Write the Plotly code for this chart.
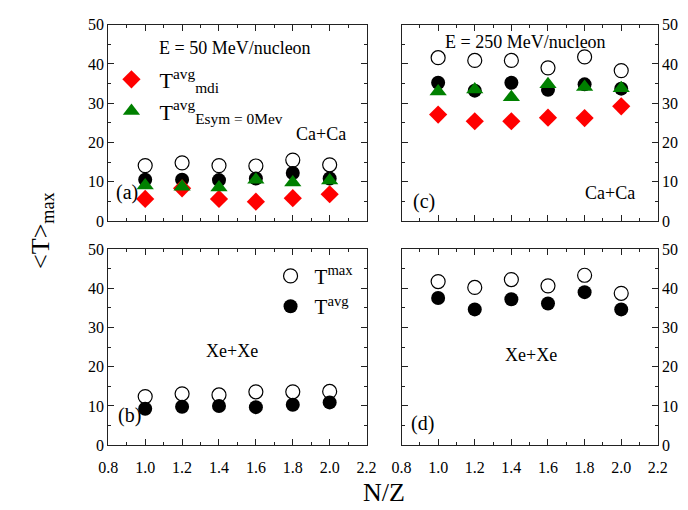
import plotly.graph_objects as go

W, H = 688, 510

nz = [1.0, 1.2, 1.4, 1.6, 1.8, 2.0]
x_ticks = [0.8, 1.0, 1.2, 1.4, 1.6, 1.8, 2.0, 2.2]
y_ticks = [0, 10, 20, 30, 40, 50]

# (a) Ca+Ca, E = 50 MeV/nucleon
a_tmax = [14.1, 14.8, 14.1, 14.0, 15.5, 14.3]
a_tavg = [10.5, 10.5, 10.4, 10.8, 12.2, 10.8]
a_mdi = [5.6, 8.3, 5.6, 4.9, 5.8, 6.8]
a_esym0 = [9.0, 8.7, 8.5, 10.5, 9.8, 10.3]
# (c) Ca+Ca, E = 250 MeV/nucleon
c_tmax = [41.6, 40.9, 40.9, 39.0, 41.8, 38.3]
c_tavg = [35.2, 33.2, 35.2, 33.4, 34.8, 33.7]
c_mdi = [27.1, 25.4, 25.4, 26.3, 26.2, 29.2]
c_esym0 = [33.0, 33.5, 31.5, 34.8, 34.1, 33.8]
# (b) Xe+Xe, 50 MeV/nucleon
b_tmax = [12.4, 13.1, 12.8, 13.6, 13.6, 13.7]
b_tavg = [9.3, 9.8, 10.0, 9.7, 10.3, 10.9]
# (d) Xe+Xe, 250 MeV/nucleon
d_tmax = [41.7, 40.2, 42.2, 40.6, 43.3, 38.7]
d_tavg = [37.5, 34.6, 37.2, 36.1, 39.0, 34.6]

FONT = "Liberation Serif"
AX = "#222"


def px(x):
    return x / W


def py(y):
    return 1 - y / H


fig = go.Figure()


def add_panel(xa, ya, tmax, tavg, mdi=None, esym=None, leg_circles=False, leg_marks=False):
    fig.add_trace(go.Scatter(x=nz, y=tmax, mode="markers", xaxis=xa, yaxis=ya,
                             name="T<sup>max</sup>", legend="legend2", showlegend=leg_circles,
                             marker=dict(symbol="circle-open", size=14, color="black", line=dict(width=1.2))))
    fig.add_trace(go.Scatter(x=nz, y=tavg, mode="markers", xaxis=xa, yaxis=ya,
                             name="T<sup>avg</sup>", legend="legend2", showlegend=leg_circles,
                             marker=dict(symbol="circle", size=14, color="black")))
    if mdi is not None:
        fig.add_trace(go.Scatter(x=nz, y=mdi, mode="markers", xaxis=xa, yaxis=ya,
                                 name="T<sup>avg</sup><sub>mdi</sub>", legend="legend", showlegend=leg_marks,
                                 marker=dict(symbol="diamond", size=14, color="#ff0000")))
        fig.add_trace(go.Scatter(x=nz, y=esym, mode="markers", xaxis=xa, yaxis=ya,
                                 name="T<sup>avg</sup><sub>Esym = 0Mev</sub>", legend="legend", showlegend=leg_marks,
                                 marker=dict(symbol="triangle-up", size=15, color="#008000")))


add_panel("x", "y", a_tmax, a_tavg, a_mdi, a_esym0, leg_marks=True)
add_panel("x2", "y2", c_tmax, c_tavg, c_mdi, c_esym0)
add_panel("x3", "y3", b_tmax, b_tavg, leg_circles=True)
add_panel("x4", "y4", d_tmax, d_tavg)

L = [93, 359]
R = [395, 659]
T = [9, 212]
B = [241, 444]


def xax(dom, anchor, labels):
    return dict(domain=[px(dom[0]), px(dom[1])], anchor=anchor, range=[0.8, 2.2],
                tickmode="array", tickvals=x_ticks, ticktext=["%.1f" % v for v in x_ticks],
                ticks="inside", ticklen=6, tickwidth=1, tickcolor=AX,
                showline=True, linecolor=AX, linewidth=1, mirror="allticks",
                showgrid=False, zeroline=False, showticklabels=labels, ticklabelstandoff=8,
                minor=dict(dtick=0.1, tick0=0.8, ticks="inside", ticklen=3, tickcolor=AX, showgrid=False),
                tickfont=dict(family=FONT, size=16, color="black"))


def yax(dom, anchor, side):
    return dict(domain=[py(dom[1]), py(dom[0])], anchor=anchor, range=[0, 50], side=side,
                tickmode="array", tickvals=y_ticks,
                ticks="inside", ticklen=6, tickwidth=1, tickcolor=AX,
                showline=True, linecolor=AX, linewidth=1, mirror="allticks",
                showgrid=False, zeroline=False,
                minor=dict(dtick=5, tick0=0, ticks="inside", ticklen=3, tickcolor=AX, showgrid=False),
                tickfont=dict(family=FONT, size=16, color="black"))


fig.update_layout(
    width=W, height=H,
    margin=dict(l=0, r=0, t=0, b=0),
    paper_bgcolor="white", plot_bgcolor="white",
    font=dict(family=FONT, color="black"),
    xaxis=xax(L, "y", False), yaxis=yax(T, "x", "left"),
    xaxis2=xax(R, "y2", False), yaxis2=yax(T, "x2", "right"),
    xaxis3=xax(L, "y3", True), yaxis3=yax(B, "x3", "left"),
    xaxis4=xax(R, "y4", True), yaxis4=yax(B, "x4", "right"),
    legend=dict(x=px(88), y=py(44), xanchor="left", yanchor="top",
                bgcolor="rgba(0,0,0,0)", font=dict(family=FONT, size=22, color="black"),
                itemsizing="trace", tracegroupgap=0, itemwidth=46),
    legend2=dict(x=px(256), y=py(248), xanchor="left", yanchor="top",
                 bgcolor="rgba(0,0,0,0)", font=dict(family=FONT, size=21, color="black"),
                 itemsizing="trace", tracegroupgap=0, itemwidth=38),
)


def ann(text, x, y, size=18, **kw):
    fig.add_annotation(text=text, x=px(x), y=py(y), xref="paper", yref="paper",
                       showarrow=False, font=dict(family=FONT, size=size, color="black"),
                       xanchor="center", yanchor="middle", **kw)


ann("E = 50 MeV/nucleon", 223, 33)
ann("Ca+Ca", 312, 122)
ann("(a)", 112, 183, size=20)
ann("E = 250 MeV/nucleon", 523, 27)
ann("(c)", 418, 192, size=20)
ann("Ca+Ca", 610, 183)
ann("Xe+Xe", 220, 347)
ann("(b)", 115, 413, size=20)
ann("Xe+Xe", 528, 351)
ann("(d)", 417, 422, size=20)
ann("N/Z", 377, 493, size=26)
ann("&lt;T&gt;<sub>max</sub>", 24, 222, size=26, textangle=-90)

fig.write_html("out.html")
